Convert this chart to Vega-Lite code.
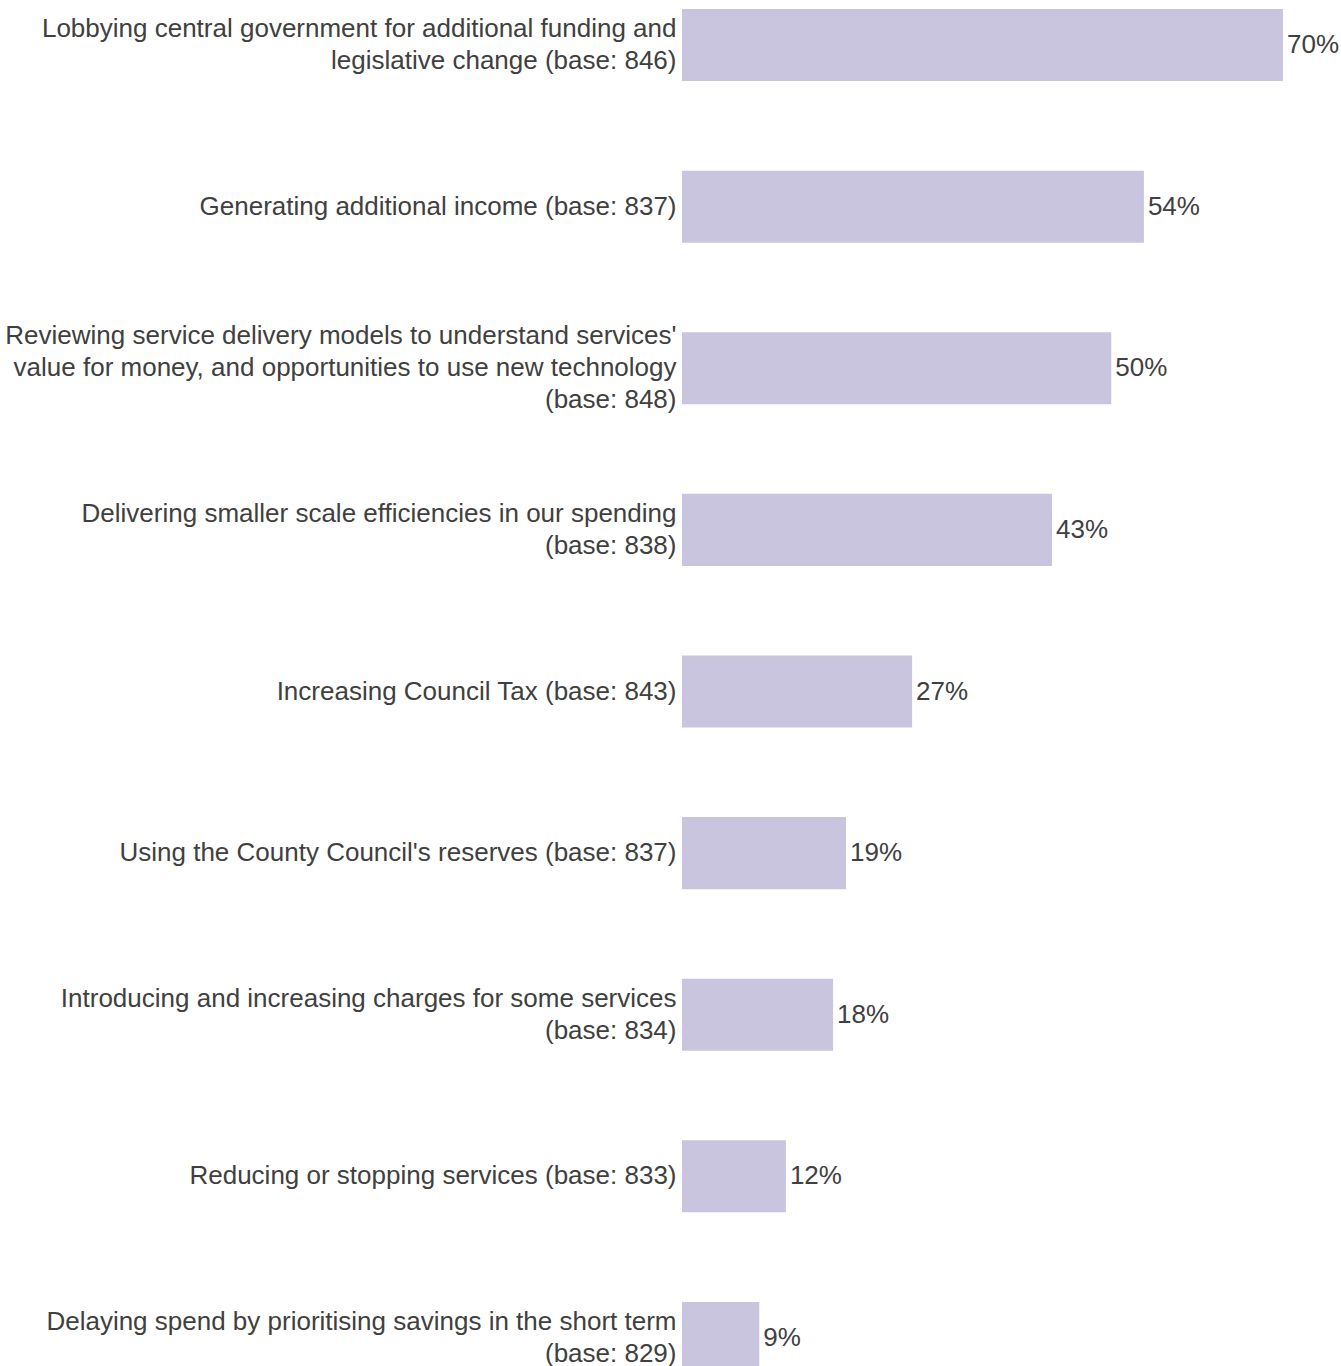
{
  "$schema": "https://vega.github.io/schema/vega-lite/v6.json",
  "autosize": {"type": "none"},
  "padding": {"left": 682, "top": 0, "right": 58, "bottom": 0},
  "width": 601,
  "height": 1366,
  "background": "white",
  "config": {"view": {"stroke": null}, "font": "Liberation Sans"},
  "data": {
    "values": [
      {"label": "Lobbying central government for additional funding and\nlegislative change (base: 846)", "value": 0.70},
      {"label": "Generating additional income (base: 837)", "value": 0.538},
      {"label": "Reviewing service delivery models to understand services'\nvalue for money, and opportunities to use new technology\n(base: 848)", "value": 0.50},
      {"label": "Delivering smaller scale efficiencies in our spending\n(base: 838)", "value": 0.431},
      {"label": "Increasing Council Tax (base: 843)", "value": 0.268},
      {"label": "Using the County Council's reserves (base: 837)", "value": 0.191},
      {"label": "Introducing and increasing charges for some services\n(base: 834)", "value": 0.176},
      {"label": "Reducing or stopping services (base: 833)", "value": 0.121},
      {"label": "Delaying spend by prioritising savings in the short term\n(base: 829)", "value": 0.09}
    ]
  },
  "encoding": {
    "y": {
      "field": "label",
      "type": "nominal",
      "sort": null,
      "scale": {"range": [0, 1383], "paddingInner": 0.5545, "paddingOuter": 0.0557},
      "axis": {
        "title": null,
        "domain": false,
        "ticks": false,
        "labelExpr": "split(datum.label, '\\n')",
        "labelFontSize": 26,
        "labelColor": "#404040",
        "labelPadding": 6,
        "labelLineHeight": 32,
        "labelLimit": 0,
        "labelFont": "Liberation Sans",
        "labelOffset": {
          "condition": [
            {"test": "indexof(datum.value, 'value for money') >= 0", "value": -32},
            {"test": "indexof(datum.value, '\\n') >= 0", "value": -16}
          ],
          "value": 0
        }
      }
    },
    "x": {
      "field": "value",
      "type": "quantitative",
      "scale": {"domain": [0, 0.7]},
      "axis": null
    }
  },
  "layer": [
    {"mark": {"type": "bar", "color": "#CAC5DF"}},
    {
      "mark": {"type": "text", "align": "left", "baseline": "middle", "dx": 4, "fontSize": 26, "color": "#404040", "font": "Liberation Sans"},
      "encoding": {"text": {"field": "value", "type": "quantitative", "format": ".0%"}}
    }
  ]
}
